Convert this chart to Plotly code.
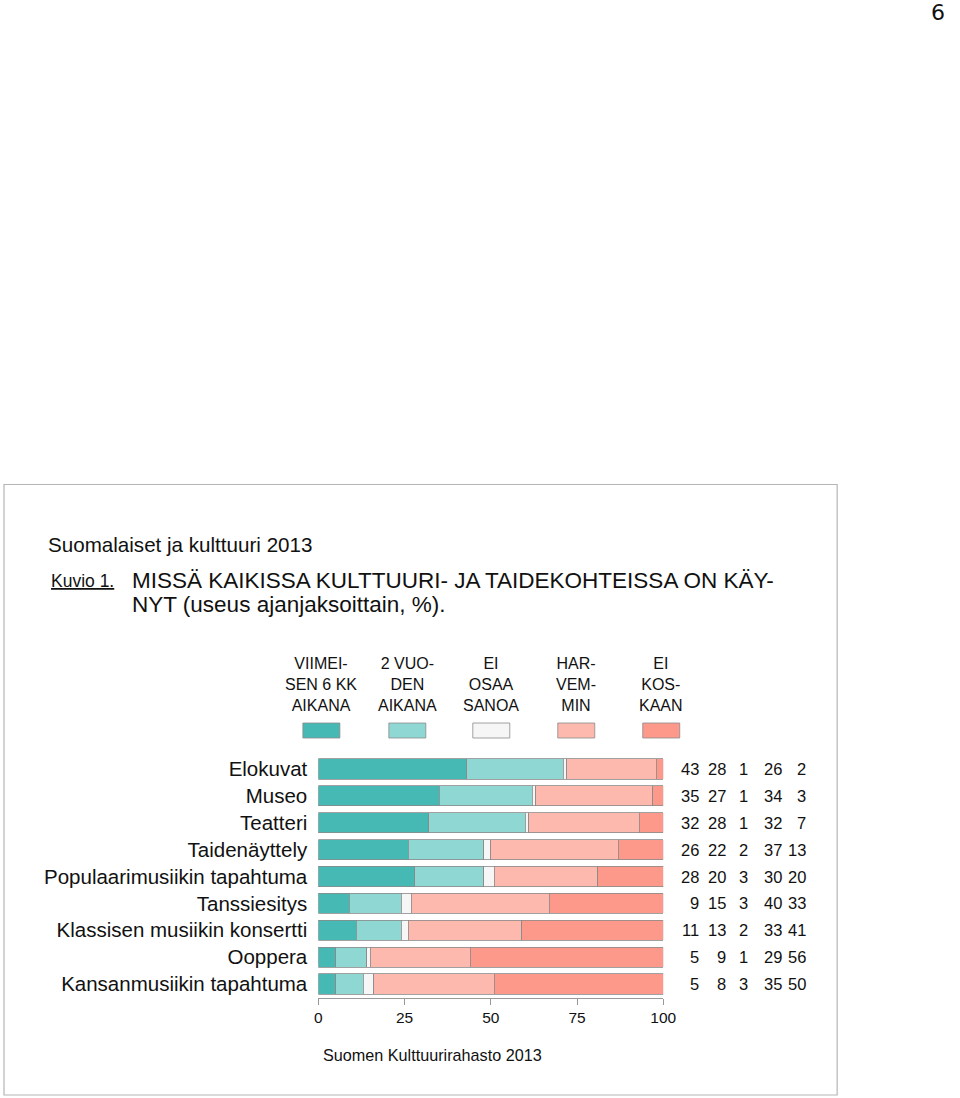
import plotly.graph_objects as go

categories = ["Elokuvat", "Museo", "Teatteri", "Taidenäyttely", "Populaarimusiikin tapahtuma",
              "Tanssiesitys", "Klassisen musiikin konsertti", "Ooppera", "Kansanmusiikin tapahtuma"]
series_names = ["VIIMEI-<br>SEN 6 KK<br>AIKANA", "2 VUO-<br>DEN<br>AIKANA", "EI<br>OSAA<br>SANOA",
                "HAR-<br>VEM-<br>MIN", "EI<br>KOS-<br>KAAN"]
viimeisen_6kk = [43, 35, 32, 26, 28, 9, 11, 5, 5]
vuoden_2 = [28, 27, 28, 22, 20, 15, 13, 9, 8]
ei_osaa_sanoa = [1, 1, 1, 2, 3, 3, 2, 1, 3]
harvemmin = [26, 34, 32, 37, 30, 40, 33, 29, 35]
ei_koskaan = [2, 3, 7, 13, 20, 33, 41, 56, 50]
series = [viimeisen_6kk, vuoden_2, ei_osaa_sanoa, harvemmin, ei_koskaan]
colors = ["#46b9b4", "#8fd7d3", "#f6f6f6", "#fdb9ad", "#fc998b"]
x_ticks = [0, 25, 50, 75, 100]

W, H = 960, 1098
FONT = "Liberation Sans, Arial, sans-serif"


def px(x):
    # horizontal page position (in target pixels) -> paper fraction
    return max(0.0, min(1.0, (x - 3.5) / 0.9827 / W))


def py(y):
    return 1 - y / H


fig = go.Figure()
for name, vals, col in zip(series_names, series, colors):
    fig.add_trace(go.Bar(y=categories, x=vals, orientation="h", name=name,
                         marker=dict(color=col, line=dict(color="#8a8a8a", width=0.8)),
                         showlegend=False, hoverinfo="x+y"))

ytop, ybot = 755.5, 997.5
fig.update_layout(
    width=W, height=H, margin=dict(l=0, r=0, t=0, b=0),
    paper_bgcolor="white", plot_bgcolor="white",
    barmode="stack", bargap=0.25,
    font=dict(family=FONT, color="#111"),
    xaxis=dict(domain=[px(318), px(663)], range=[0, 100], tickvals=x_ticks, ticks="outside", ticklen=6,
               tickcolor="#999", showline=True, linecolor="#999", linewidth=1, showgrid=False,
               zeroline=False, tickfont=dict(size=15.5, family=FONT, color="#111"), fixedrange=True),
    yaxis=dict(domain=[py(ybot), py(ytop)], categoryorder="array", categoryarray=categories,
               autorange="reversed", ticks="outside", ticklen=6, tickcolor="rgba(0,0,0,0)",
               showline=False, showgrid=False, tickfont=dict(size=20.5, family=FONT, color="#111"),
               fixedrange=True),
)

# outer frame
fig.add_shape(type="rect", xref="paper", yref="paper", x0=px(0.5), x1=px(837),
              y0=py(1095), y1=py(484.5), line=dict(color="#b5b5b5", width=1.2))


def ann(text, x, y, size, xanchor="left", yanchor="middle", family=FONT, align="left"):
    fig.add_annotation(text=text, x=px(x), y=py(y), xref="paper", yref="paper",
                       xanchor=xanchor, yanchor=yanchor, showarrow=False, align=align,
                       font=dict(size=size, family=family, color="#111"))


ann("6", 960, 12, 22, xanchor="right", family="DejaVu Sans, sans-serif")
ann("Suomalaiset ja kulttuuri 2013", 46, 544, 20.6)
ann("<u>Kuvio 1.</u>", 49, 581, 17.5)
ann("MISSÄ KAIKISSA KULTTUURI- JA TAIDEKOHTEISSA ON KÄY-", 130, 580, 22.5)
ann("NYT (useus ajanjaksoittain, %).", 130, 604, 22.5)
ann("Suomen Kulttuurirahasto 2013", 321, 1055, 16.2)

# legend headers and swatches
leg_x = [321, 407, 491, 576, 661]
for name, col, cx in zip(series_names, colors, leg_x):
    ann(name, cx, 684, 16, xanchor="center", align="center")
    fig.add_shape(type="rect", xref="paper", yref="paper", x0=px(cx - 18.5), x1=px(cx + 18.5),
                  y0=py(738), y1=py(723), fillcolor=col, line=dict(color="#8a8a8a", width=0.8))

# value columns (right edges)
col_x = [701, 728, 750, 784, 808]
for vals, cx in zip(series, col_x):
    for cat, v in zip(categories, vals):
        fig.add_annotation(text=str(v), x=px(cx), xref="paper", y=cat, yref="y",
                           xanchor="right", yanchor="middle", showarrow=False,
                           font=dict(size=16.5, family=FONT, color="#111"))

post = ("document.body.style.margin='0';"
        "document.body.style.overflow='hidden';"
        "document.documentElement.style.overflow='hidden';")
fig.write_html("out.html", config={"displayModeBar": False}, post_script=post)
